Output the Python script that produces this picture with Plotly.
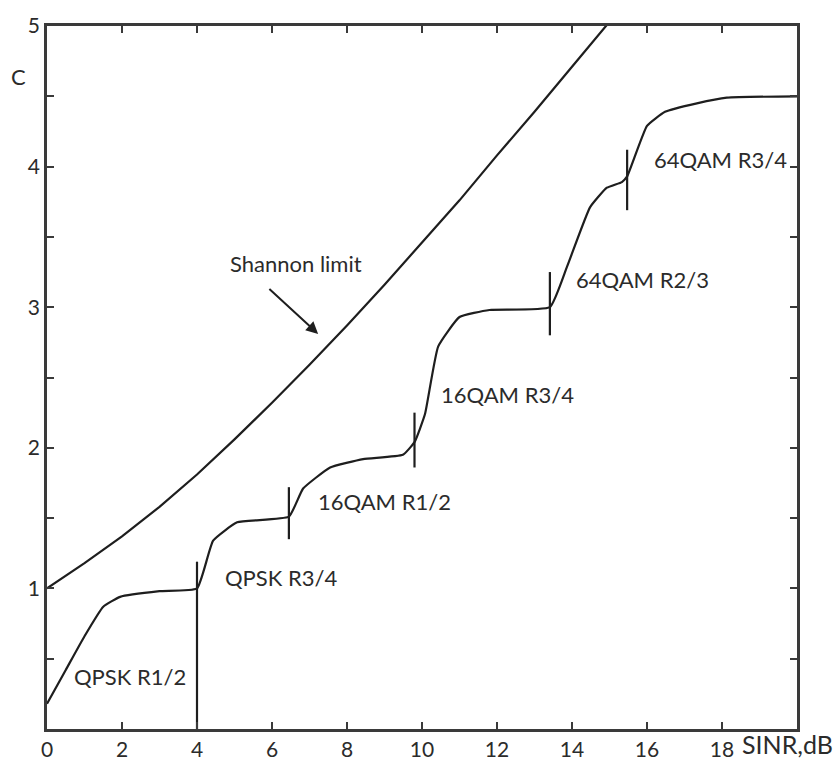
import plotly.graph_objects as go

# Shannon limit curve
shannon_x = [0, 1, 2, 3, 4, 5, 6, 7, 8, 9, 10, 11, 12, 13, 14, 15]
shannon_c = [1.00, 1.18, 1.37, 1.58, 1.81, 2.06, 2.32, 2.59, 2.87, 3.16, 3.46, 3.76, 4.08, 4.39, 4.71, 5.03]

# Adaptive modulation and coding throughput curve
amc_x = [0.0, 0.5, 1.0, 1.5, 1.95, 3.0, 4.0, 4.43, 5.07, 6.45, 6.83, 7.55, 8.43, 9.49, 9.8,
         10.08, 10.43, 11.0, 11.8, 13.41, 13.87, 14.48, 14.93, 15.33, 15.47,
         16.0, 16.48, 17.33, 18.13, 20.0]
amc_c = [0.18, 0.42, 0.66, 0.87, 0.94, 0.98, 1.0, 1.34, 1.47, 1.51, 1.71, 1.86, 1.92, 1.95, 2.04,
         2.24, 2.72, 2.93, 2.98, 3.00, 3.29, 3.71, 3.85, 3.89, 3.93,
         4.29, 4.39, 4.45, 4.49, 4.50]

# Switching-threshold markers (vertical bars)
marker_x = [4.0, 6.45, 9.8, 13.41, 15.47]
marker_lo = [0.0, 1.35, 1.86, 2.80, 3.69]
marker_hi = [1.19, 1.72, 2.25, 3.25, 4.12]

# Scheme labels
label_text = ["QPSK R1/2", "QPSK R3/4", "16QAM R1/2", "16QAM R3/4", "64QAM R2/3", "64QAM R3/4"]
label_x = [2.21, 6.24, 8.99, 12.29, 15.89, 17.95]
label_c = [0.37, 1.08, 1.62, 2.38, 3.20, 4.05]

x_ticks = [0, 2, 4, 6, 8, 10, 12, 14, 16, 18, 20]
x_tick_text = ["0", "2", "4", "6", "8", "10", "12", "14", "16", "18", ""]
y_ticks = [0, 0.5, 1, 1.5, 2, 2.5, 3, 3.5, 4, 4.5, 5]
y_tick_text = ["", "", "1", "", "2", "", "3", "", "4", "", "5"]

LINE = "#1e1e1e"
TXT = "#2b2b2b"
FONT = "Lato"

W, H = 833, 773
L, R, T, B = 47, 36, 13, 36
PW, PH = W - L - R, H - T - B


def px_to_paper(px, py):
    return (px - L) / PW, (H - B - py) / PH


fig = go.Figure()
fig.add_trace(go.Scatter(x=shannon_x, y=shannon_c, mode="lines",
                         line=dict(color=LINE, width=2.2), showlegend=False, hoverinfo="skip"))
fig.add_trace(go.Scatter(x=amc_x, y=amc_c, mode="lines",
                         line=dict(color=LINE, width=2.2, shape="spline", smoothing=0.4),
                         showlegend=False, hoverinfo="skip"))
for mx, lo, hi in zip(marker_x, marker_lo, marker_hi):
    fig.add_trace(go.Scatter(x=[mx, mx], y=[lo, hi], mode="lines",
                             line=dict(color=LINE, width=2.2), showlegend=False, hoverinfo="skip"))

for t, lx, ly in zip(label_text, label_x, label_c):
    fig.add_annotation(x=lx, y=ly, text=t, showarrow=False, yanchor="middle", xanchor="center",
                       font=dict(family=FONT, size=22, color=TXT))

fig.add_annotation(x=6.64, y=3.31, text="Shannon limit", showarrow=False,
                   yanchor="middle", xanchor="center",
                   font=dict(family=FONT, size=22, color=TXT))
fig.add_annotation(x=7.23, y=2.81, ax=5.89, ay=3.14, xref="x", yref="y", axref="x", ayref="y",
                   text="", showarrow=True, arrowhead=2, arrowsize=1.2, arrowwidth=2, arrowcolor=LINE)

cx, cy = px_to_paper(18, 65)
fig.add_annotation(x=cx, y=cy, xref="paper", yref="paper", text="C", showarrow=False,
                   xanchor="center", yanchor="middle",
                   font=dict(family=FONT, size=22, color=TXT))
sx, sy = px_to_paper(787, 752)
fig.add_annotation(x=sx, y=sy, xref="paper", yref="paper", text="SINR,dB", showarrow=False,
                   xanchor="center", yanchor="middle",
                   font=dict(family=FONT, size=25, color=TXT))

fig.update_layout(
    width=W, height=H,
    margin=dict(l=L, r=R, t=T, b=B),
    plot_bgcolor="white", paper_bgcolor="white",
    showlegend=False,
)
fig.update_xaxes(range=[0, 20], tickvals=x_ticks, ticktext=x_tick_text,
                 showgrid=False, zeroline=False, showline=True, linecolor="#3a3a3a", linewidth=2.5,
                 mirror="ticks", ticks="inside", ticklen=7, tickwidth=2, tickcolor="#3a3a3a",
                 tickfont=dict(family=FONT, size=21, color=TXT))
fig.update_yaxes(range=[0, 5], tickvals=y_ticks, ticktext=y_tick_text,
                 showgrid=False, zeroline=False, showline=True, linecolor="#3a3a3a", linewidth=2.5,
                 mirror="ticks", ticks="inside", ticklen=7, tickwidth=2, tickcolor="#3a3a3a",
                 tickfont=dict(family=FONT, size=21, color=TXT))

fig.write_html("out.html")
